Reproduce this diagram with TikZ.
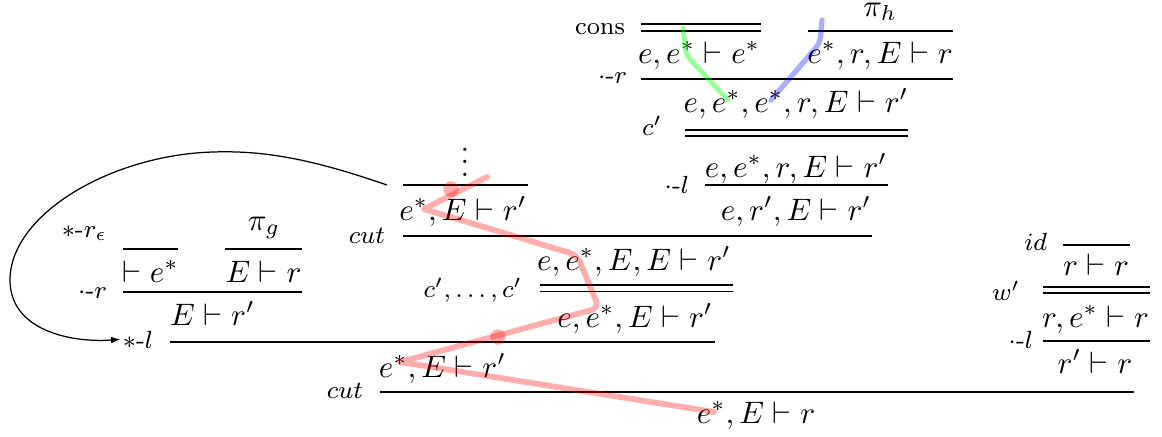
\documentclass[tikz,border=0pt]{standalone}
\usepackage{amsmath}
\usetikzlibrary{arrows.meta}
\begin{document}
\begin{tikzpicture}[x=0.322pt,y=-0.322pt,
  seq/.style={anchor=base,inner sep=0pt,outer sep=0pt},
  lab/.style={anchor=base east,inner sep=0pt,outer sep=0pt,font=\footnotesize},
  rul/.style={line width=0.4pt},
  hl/.style={opacity=0.32, line cap=round, line join=round}]
\useasboundingbox (0,0) rectangle (1162,436);

% ---------- top right subtree ----------
\node[lab] (cons) at (625,35) {cons};
\draw[rul] (641,24) -- (761,24);
\draw[rul] (641,31) -- (761,31);
\node[seq] (s1) at (699,63) {$e, e^* \vdash e^*$};
\node[seq] (pih) at (880,16) {$\pi_h$};
\draw[rul] (808,31) -- (953,31);
\node[seq] (s2) at (880,63) {$e^*, r, E \vdash r$};
\node[lab] (dr1) at (627,83) {$\cdot$-$r$};
\draw[rul] (641,79) -- (953,79);
\node[seq] (s3) at (796,112) {$e, e^*, e^*, r, E \vdash r'$};
\node[lab] (c1) at (662,135) {$c'$};
\draw[rul] (685,130) -- (908,130);
\draw[rul] (685,136) -- (908,136);
\node[seq] (s4) at (796,177) {$e, e^*, r, E \vdash r'$};
\node[lab] (dl1) at (689,193) {$\cdot$-$l$};
\draw[rul] (705,185) -- (888,185);
\node[seq] (s5) at (796,220) {$e, r', E \vdash r'$};

% ---------- middle subtree ----------
\node[seq] (vd) at (465,176) {$\vdots$};
\draw[rul] (403,185) -- (528,185);
\node[seq] (s6) at (463,220) {$e^*, E \vdash r'$};
\node[lab] (cut1) at (385,243) {$cut$};
\draw[rul] (403,236) -- (872,236);
\node[seq] (s7) at (634,270) {$e, e^*, E, E \vdash r'$};
\node[lab] (cs) at (522,297) {$c', \ldots, c'$};
\draw[rul] (540,285) -- (733,285);
\draw[rul] (540,291.5) -- (733,291.5);
\node[seq] (s8) at (635,327) {$e, e^*, E \vdash r'$};

% ---------- left subtree ----------
\node[lab] (sre) at (107,237) {$*$-$r_\epsilon$};
\draw[rul] (123,249) -- (178,249);
\node[seq] (s9) at (150.5,282) {$\vdash e^*$};
\node[seq] (pig) at (264,230) {$\pi_g$};
\draw[rul] (225,249) -- (302,249);
\node[seq] (s10) at (263.5,282) {$E \vdash r$};
\node[lab] (dr2) at (107,298) {$\cdot$-$r$};
\draw[rul] (123,292) -- (302,292);
\node[seq] (s11) at (212.5,325) {$E \vdash r'$};
\node[lab] (sl) at (153,348) {$*$-$l$};
\draw[rul] (170,342) -- (715,342);
\node[seq] (s12) at (442.5,377) {$e^*, E \vdash r'$};
\node[lab] (cut2) at (363,398) {$cut$};
\draw[rul] (380,392) -- (1134,392);
\node[seq] (s13) at (756,423) {$e^*, E \vdash r$};

% ---------- right subtree ----------
\node[lab] (id) at (1047,250) {$id$};
\draw[rul] (1063,245) -- (1130,245);
\node[seq] (s14) at (1096,275) {$r \vdash r$};
\node[lab] (w) at (1020,300) {$w'$};
\draw[rul] (1043,287) -- (1150,287);
\node[seq] (s15) at (1095.5,327) {$r, e^* \vdash r$};
\draw[rul] (1043,293) -- (1150,293);
\node[lab] (dl2) at (1033,348) {$\cdot$-$l$};
\draw[rul] (1043,341) -- (1150,341);
\node[seq] (s16) at (1095,373) {$r' \vdash r$};

% ---------- back arrow ----------
\coordinate (arcs) at (387,185);
\draw[line width=0.4pt,-{Latex[length=3pt,width=2.2pt]}] (arcs)
  .. controls (320,162) and (270,150) .. (213,152)
  .. controls (110,155) and (10,215) .. (10,280)
  .. controls (10,330) and (70,343) .. ([xshift=-0.8pt]sl.west);

% ---------- highlights ----------
\draw[hl, red, line width=1.85pt] (487,177) -- (424,209)
  [rounded corners=2.5pt] -- (577,255) -- (599,308) [sharp corners] -- (400,362) -- (714,412);
\fill[hl, red] (451,189) circle (2.5pt);
\fill[hl, red] (498,337) circle (2.5pt);
\draw[hl, green, opacity=0.4, line width=1.6pt] (683,28) [rounded corners=2pt] -- (686,55) -- (728,100);
\draw[hl, blue, line width=1.7pt] (822,20) [rounded corners=2pt] -- (820,43) -- (771,100);
\end{tikzpicture}
\end{document}
